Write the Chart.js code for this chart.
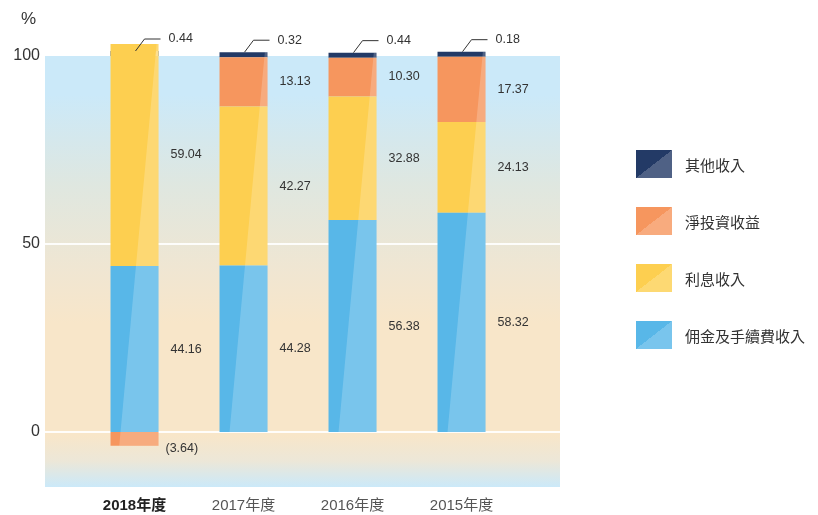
<!DOCTYPE html>
<html>
<head>
<meta charset="utf-8">
<script src="https://cdn.jsdelivr.net/npm/chart.js@4"></script>
<style>
  body { margin: 0; background: #fff; }
  #wrap { position: relative; width: 818px; height: 515px; }
  #legend { position: absolute; left: 636px; top: 150px; margin: 0; padding: 0; list-style: none; }
  #legend li { height: 28px; margin-bottom: 29px; display: flex; align-items: center;
    font: 15px "Noto Sans CJK TC", "Liberation Sans", sans-serif; color: #333; }
  #legend span { display: inline-block; width: 36px; height: 28px; margin-right: 13px; }
</style>
</head>
<body>
<div id="wrap">
  <canvas id="incomeData" width="818" height="515"></canvas>
  <ul id="legend"></ul>
</div>
<script>
// years, left to right
const years = ["2018年度", "2017年度", "2016年度", "2015年度"];

// series (bottom of stack first)
const commissionIncome = [44.16, 44.28, 56.38, 58.32];
const interestIncome = [59.04, 42.27, 32.88, 24.13];
const investmentIncome = [-3.64, 13.13, 10.30, 17.37];
const otherIncome = [0.44, 0.32, 0.44, 0.18];

const yTicks = [0, 50, 100];

const seriesNames = ["佣金及手續費收入", "利息收入", "淨投資收益", "其他收入"];
const seriesColors = ["#58b7e8", "#fdcf50", "#f6965e", "#233a66"];
const seriesLight = ["#79c5ed", "#fdd973", "#f8ab7e", "#4f6185"];

const fontFamily = '"Liberation Sans", Arial, "Noto Sans CJK TC", sans-serif';

function fmt(v) {
    return v < 0 ? "(" + Math.abs(v).toFixed(2) + ")" : v.toFixed(2);
}

// legend, top item = top of the stack
const legendElm = document.getElementById("legend");
for (let i = seriesNames.length - 1; i >= 0; i--) {
    legendElm.innerHTML += `<li><span style="background:linear-gradient(to bottom right, ${seriesColors[i]} 50%, ${seriesLight[i]} 50%)"></span>${seriesNames[i]}</li>`;
}

const incomeChartElm = document.getElementById("incomeData");

const incomeChartData = {
    labels: years,
    datasets: [commissionIncome, interestIncome, investmentIncome, otherIncome].map((d, i) => ({
        label: seriesNames[i],
        data: d,
        backgroundColor: seriesColors[i],
        borderWidth: 0,
        categoryPercentage: 1,
        barPercentage: 0.44,
        minBarLength: i === 3 ? 5 : 0,
        clip: false
    }))
};

// background band + white grid lines, drawn behind the bars
const backgroundPlugin = {
    id: "backgroundBand",
    beforeDatasetsDraw(chart) {
        const { ctx, chartArea } = chart;
        const y = chart.scales.y;
        const left = chartArea.left - 35, right = chartArea.right + 44;
        const g = ctx.createLinearGradient(0, chartArea.top, 0, chartArea.bottom);
        g.addColorStop(0, "#cbe9f9");
        g.addColorStop(0.09, "#cbe9f9");
        g.addColorStop(0.3, "#dfe7e0");
        g.addColorStop(0.5, "#f0e6d2");
        g.addColorStop(0.62, "#f8e6c9");
        g.addColorStop(0.88, "#f8e6c9");
        g.addColorStop(0.94, "#ece7d8");
        g.addColorStop(1, "#cbe9f9");
        ctx.save();
        ctx.fillStyle = g;
        ctx.fillRect(left, chartArea.top, right - left, chartArea.bottom - chartArea.top);
        ctx.strokeStyle = "rgba(255,255,255,0.9)";
        ctx.lineWidth = 2;
        [0, 50].forEach(v => {
            const py = Math.round(y.getPixelForValue(v));
            ctx.beginPath();
            ctx.moveTo(left, py);
            ctx.lineTo(right, py);
            ctx.stroke();
        });
        ctx.fillStyle = "#333";
        ctx.font = "17px " + fontFamily;
        ctx.textAlign = "left";
        ctx.textBaseline = "middle";
        ctx.fillText("%", 21, 19);
        ctx.restore();
    }
};

// light diagonal half on every bar, plus value labels
const barDecorPlugin = {
    id: "barDecor",
    afterDatasetsDraw(chart) {
        const { ctx } = chart;
        const y = chart.scales.y;
        const zeroY = y.getPixelForValue(0);
        const topY = y.getPixelForValue(100);
        ctx.save();
        chart.data.datasets.forEach((ds, di) => {
            chart.getDatasetMeta(di).data.forEach((bar, i) => {
                const half = bar.width / 2;
                const l = bar.x - half, r = bar.x + half;
                const t = Math.min(bar.y, bar.base), b = Math.max(bar.y, bar.base);
                // diagonal: right-3 at the 100 line, left+10 at the 0 line
                const xAt = py => (r - 3) + ((l + 10) - (r - 3)) * (py - topY) / (zeroY - topY);
                ctx.save();
                ctx.beginPath();
                ctx.rect(l, t, r - l, b - t);
                ctx.clip();
                ctx.beginPath();
                ctx.moveTo(xAt(t - 50), t - 50);
                ctx.lineTo(xAt(b + 50), b + 50);
                ctx.lineTo(r + 5, b + 50);
                ctx.lineTo(r + 5, t - 50);
                ctx.closePath();
                ctx.fillStyle = "rgba(255,255,255,0.2)";
                ctx.fill();
                ctx.restore();

                const v = ds.data[i];
                ctx.fillStyle = "#333";
                ctx.font = "12.5px " + fontFamily;
                ctx.textBaseline = "middle";
                ctx.textAlign = "left";
                if (di === 3) {
                    // top label with leader line
                    const ly = t - 12;
                    ctx.strokeStyle = "#333";
                    ctx.lineWidth = 1;
                    ctx.beginPath();
                    ctx.moveTo(bar.x + 1, t);
                    ctx.lineTo(bar.x + 10, ly);
                    ctx.lineTo(bar.x + 26, ly);
                    ctx.stroke();
                    ctx.fillText(fmt(v), bar.x + 34, ly);
                } else if (v < 0) {
                    ctx.fillText(fmt(v), r + 7, b + 3);
                } else {
                    ctx.fillText(fmt(v), r + 12, (t + b) / 2);
                }
            });
        });
        ctx.restore();
    }
};

const incomeChartconfig = {
    type: "bar",
    data: incomeChartData,
    options: {
        responsive: false,
        animation: false,
        devicePixelRatio: 1,
        layout: {
            padding: { top: 56, right: 302, bottom: 0, left: 0 }
        },
        plugins: {
            legend: { display: false },
            tooltip: { enabled: false }
        },
        scales: {
            x: {
                stacked: true,
                grid: { display: false, drawTicks: false },
                border: { display: false },
                afterFit: scale => { scale.height = 28; },
                ticks: {
                    padding: 10,
                    font: ctx => ({ family: fontFamily, size: 15, weight: ctx.index === 0 ? "bold" : "normal" }),
                    color: ctx => ctx.index === 0 ? "#222" : "#555"
                }
            },
            y: {
                stacked: true,
                min: -14.6,
                max: 100,
                grid: { display: false, drawTicks: false },
                border: { display: false },
                afterFit: scale => {
                    scale.width = 80;
                    scale.paddingTop = 0;
                    scale.paddingBottom = 0;
                },
                afterBuildTicks: scale => { scale.ticks = yTicks.map(v => ({ value: v })); },
                ticks: {
                    padding: 40,
                    font: { family: fontFamily, size: 16 },
                    color: "#333"
                }
            }
        }
    },
    plugins: [backgroundPlugin, barDecorPlugin]
};

const incomeChart = new Chart(incomeChartElm, incomeChartconfig);
</script>
</body>
</html>
